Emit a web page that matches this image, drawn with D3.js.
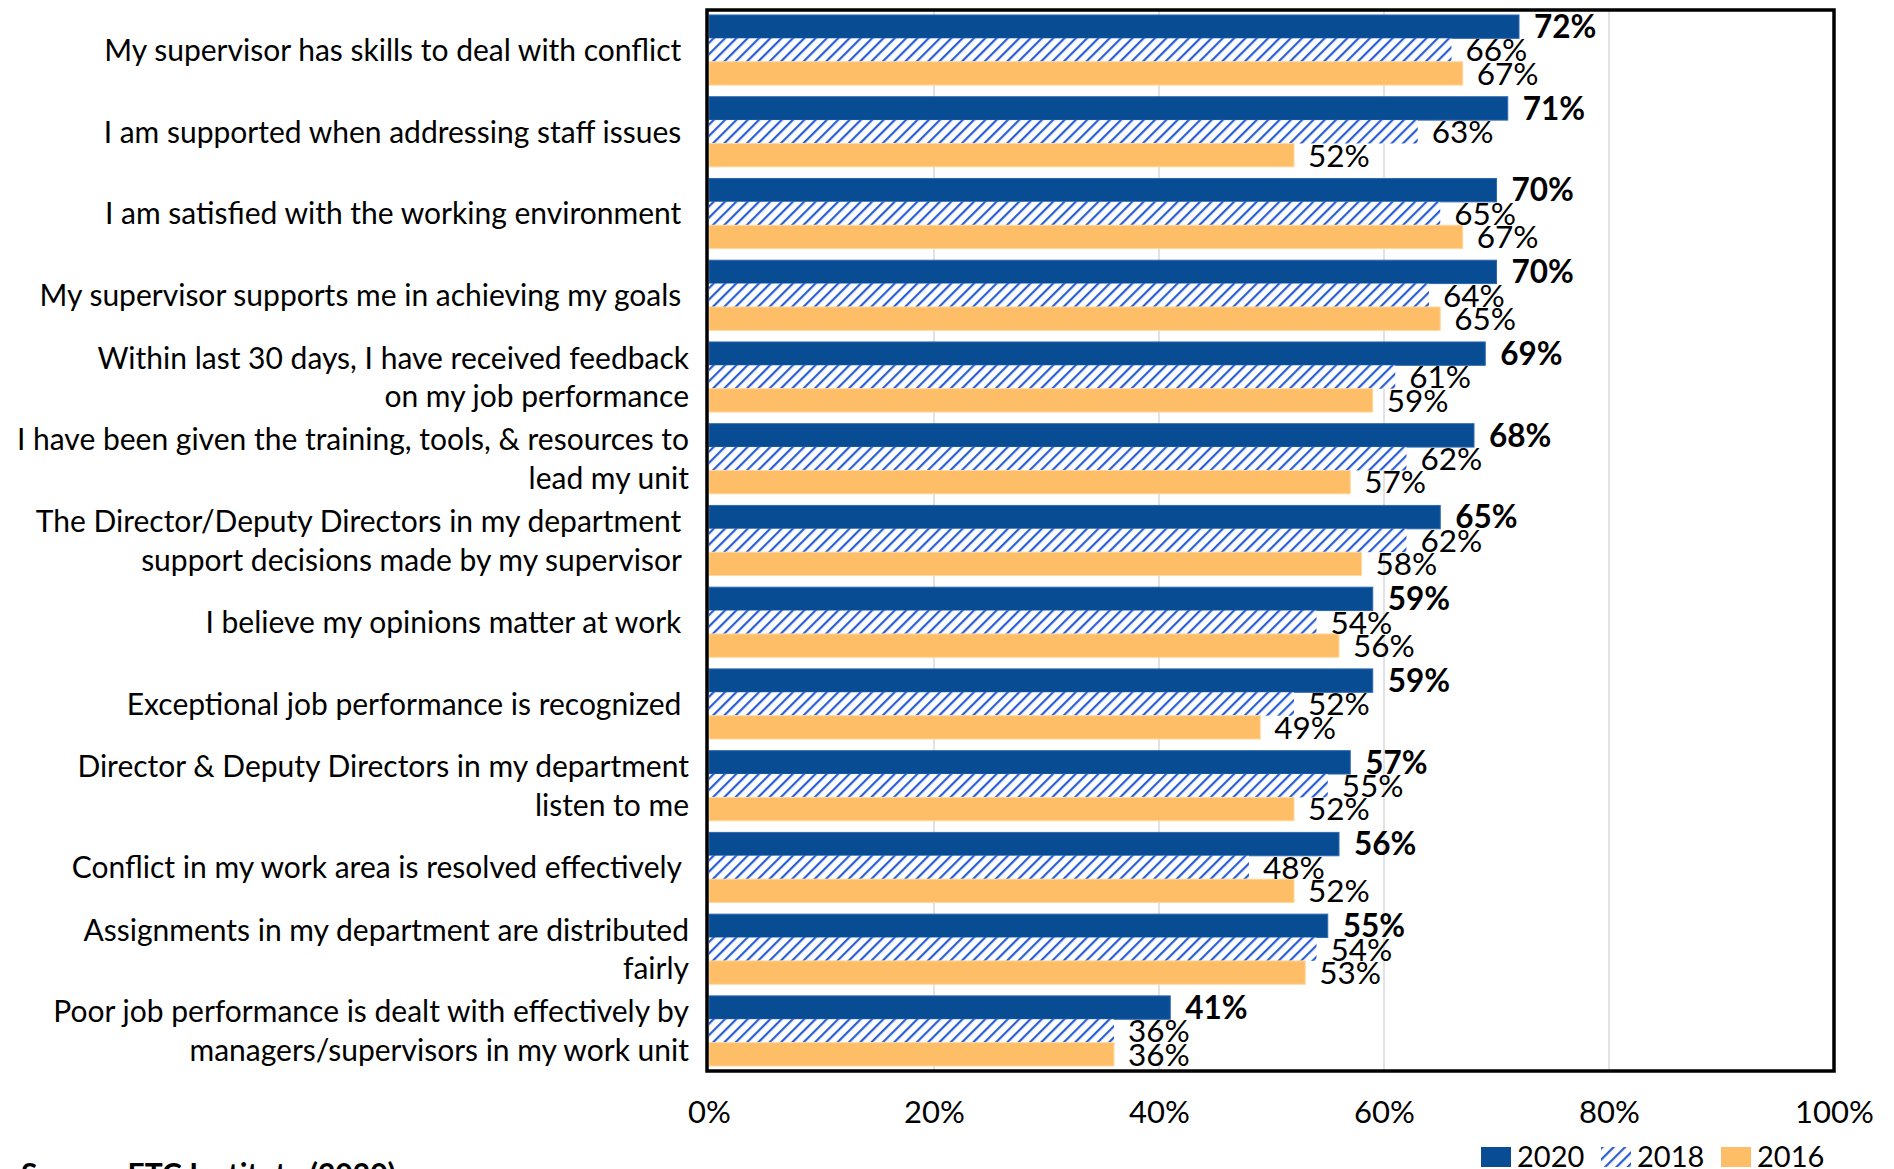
<!DOCTYPE html>
<html>
<head>
<meta charset="utf-8">
<script src="https://cdn.jsdelivr.net/npm/d3@7"></script>
<style>
  html, body { margin: 0; padding: 0; background: #fff; }
  svg { display: block; font-family: Lato, "Open Sans", sans-serif; }
  .cat { white-space: pre; }
</style>
</head>
<body>
<svg id="chart" width="1894" height="1169"></svg>
<script>
// Survey statements (lines split where the label wraps)
const categories = [
  ["My supervisor has skills to deal with conflict "],
  ["I am supported when addressing staff issues "],
  ["I am satisfied with the working environment "],
  ["My supervisor supports me in achieving my goals "],
  ["Within last 30 days, I have received feedback", "on my job performance"],
  ["I have been given the training, tools, & resources to", "lead my unit"],
  ["The Director/Deputy Directors in my department ", "support decisions made by my supervisor "],
  ["I believe my opinions matter at work "],
  ["Exceptional job performance is recognized "],
  ["Director & Deputy Directors in my department", "listen to me"],
  ["Conflict in my work area is resolved effectively "],
  ["Assignments in my department are distributed", "fairly"],
  ["Poor job performance is dealt with effectively by", "managers/supervisors in my work unit"]
];

const seriesNames = ["2020", "2018", "2016"];
const values2020 = [72, 71, 70, 70, 69, 68, 65, 59, 59, 57, 56, 55, 41];
const values2018 = [66, 63, 65, 64, 61, 62, 62, 54, 52, 55, 48, 54, 36];
const values2016 = [67, 52, 67, 65, 59, 57, 58, 56, 49, 52, 52, 53, 36];
const tickValues = [0, 20, 40, 60, 80, 100];

const seriesValues = [values2020, values2018, values2016];
const keys = categories.map((c, i) => i);

const svg = d3.select("#chart");

// Hatched fill for the 2018 series
const defs = svg.append("defs");
const pat = defs.append("pattern")
  .attr("id", "hatch")
  .attr("patternUnits", "userSpaceOnUse")
  .attr("width", 8).attr("height", 8)
  .attr("patternTransform", "rotate(45)");
pat.append("rect").attr("width", 8).attr("height", 8).attr("fill", "#fff");
pat.append("rect").attr("x", 0).attr("y", 0).attr("width", 2.2).attr("height", 8).attr("fill", "#2B5ED6");

const fills = ["#084C94", "url(#hatch)", "#FDBE67"];
const strokes = ["#2E68B0", "none", "#FFD9A0"];

const plot = { left: 709, right: 1834, top: 10, bottom: 1071 };

const x = d3.scaleLinear().domain([0, 100]).range([plot.left, plot.right]);
const y = d3.scaleBand().domain(keys).range([plot.top, plot.bottom])
  .paddingInner(0.142).paddingOuter(0.061);
const ySub = d3.scaleBand().domain(d3.range(seriesNames.length)).range([0, y.bandwidth()]);

// Vertical gridlines
svg.append("g")
  .selectAll("line")
  .data(tickValues.filter(t => t > 0 && t < 100))
  .join("line")
  .attr("x1", d => x(d)).attr("x2", d => x(d))
  .attr("y1", plot.top).attr("y2", plot.bottom)
  .attr("stroke", "#D9D9D9").attr("stroke-width", 1.5);

// Bars
const groups = svg.append("g").selectAll("g")
  .data(keys)
  .join("g")
  .attr("transform", d => `translate(0,${y(d)})`);

groups.selectAll("rect")
  .data(i => seriesValues.map((vals, s) => ({ s, v: vals[i] })))
  .join("rect")
  .attr("x", x(0))
  .attr("y", d => ySub(d.s))
  .attr("width", d => x(d.v) - x(0))
  .attr("height", ySub.bandwidth())
  .attr("fill", d => fills[d.s])
  .attr("stroke", d => strokes[d.s])
  .attr("stroke-width", 1);

// Value labels
groups.selectAll("text")
  .data(i => seriesValues.map((vals, s) => ({ s, v: vals[i] })))
  .join("text")
  .attr("x", d => x(d.v) + (d.s === 0 ? 15 : 14))
  .attr("y", d => ySub(d.s) + ySub.bandwidth() / 2)
  .attr("dy", "0.36em")
  .attr("font-size", 31.5)
  .attr("font-weight", d => d.s === 0 ? 700 : 400)
  .attr("fill", "#000")
  .text(d => d.v + "%");

// Category labels
const lineH = 38.5;
svg.append("g").selectAll("text")
  .data(keys)
  .join("text")
  .attr("class", "cat")
  .attr("text-anchor", "end")
  .attr("font-size", 30)
  .attr("fill", "#000")
  .each(function (i) {
    const lines = categories[i];
    const cy = y(i) + y.bandwidth() / 2;
    const t = d3.select(this);
    lines.forEach((ln, k) => {
      t.append("tspan")
        .attr("x", 689)
        .attr("y", cy + (k - (lines.length - 1) / 2) * lineH)
        .attr("dy", "0.36em")
        .text(ln);
    });
  });

// Plot frame
svg.append("rect")
  .attr("x", plot.left - 2).attr("y", plot.top)
  .attr("width", plot.right - plot.left + 2).attr("height", plot.bottom - plot.top)
  .attr("fill", "none").attr("stroke", "#000").attr("stroke-width", 3.5);

// X axis
const xAxis = d3.axisBottom(x)
  .tickValues(tickValues)
  .tickFormat(d => d + "%")
  .tickSize(0)
  .tickPadding(0);
const ax = svg.append("g")
  .attr("transform", `translate(0,${plot.bottom})`)
  .call(xAxis);
ax.select(".domain").remove();
ax.selectAll("text")
  .attr("font-family", "Lato, 'Open Sans', sans-serif")
  .attr("font-size", 31)
  .attr("fill", "#000")
  .attr("dy", null)
  .attr("y", 52);

// Legend
const legendX = [1481, 1601, 1721];
const legend = svg.append("g").selectAll("g")
  .data(seriesNames)
  .join("g")
  .attr("transform", (d, i) => `translate(${legendX[i]},1147)`);
legend.append("rect")
  .attr("width", 30).attr("height", 20)
  .attr("fill", (d, i) => fills[i]);
legend.append("text")
  .attr("x", 36).attr("y", 20)
  .attr("font-size", 29)
  .attr("fill", "#000")
  .text(d => d);

// Source note
svg.append("text")
  .attr("x", 21).attr("y", 1185)
  .attr("font-size", 30)
  .attr("font-weight", 700)
  .attr("fill", "#000")
  .text("Source: ETC Institute (2020)");
</script>
</body>
</html>
